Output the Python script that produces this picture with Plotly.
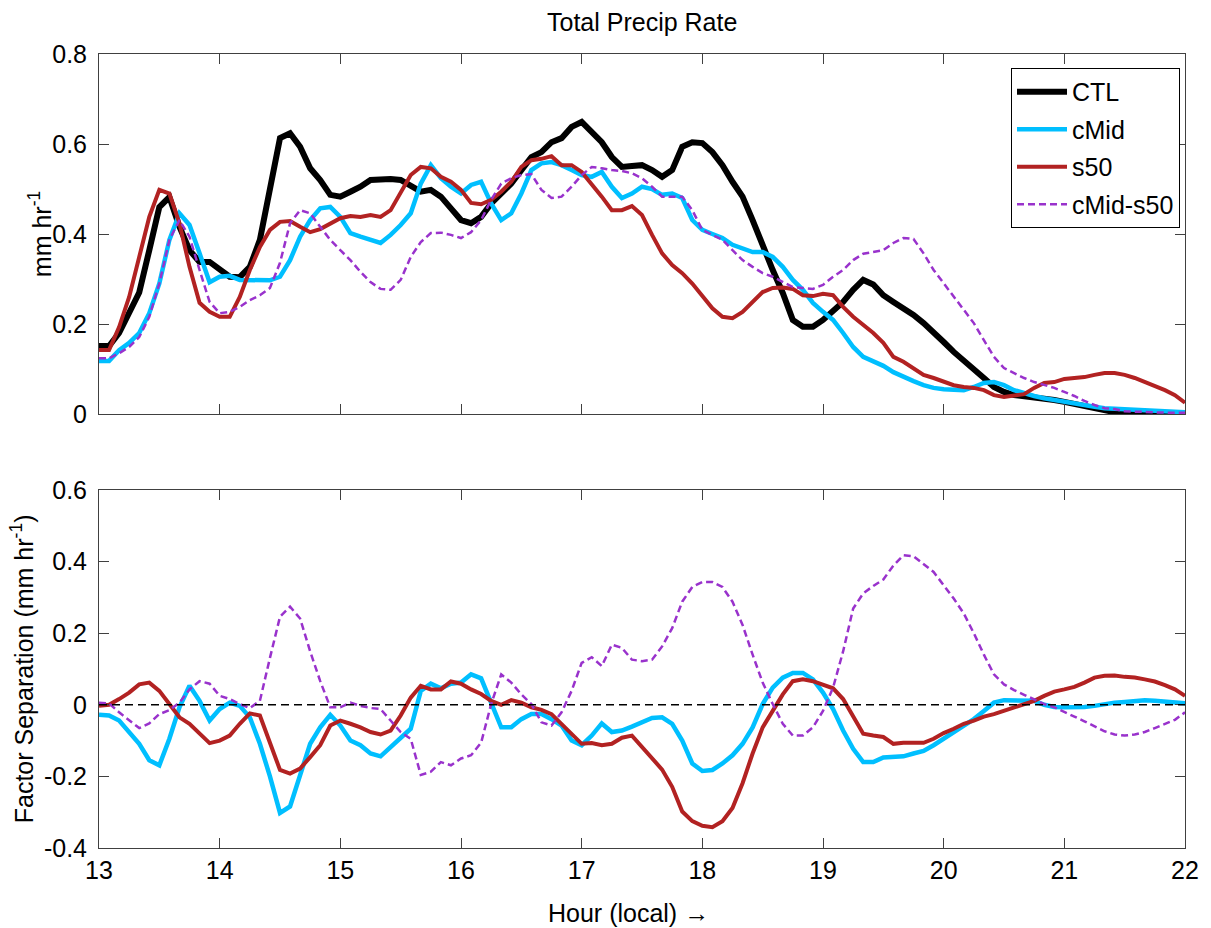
import plotly.graph_objects as go

# Time axis: 5-minute output from 13:00 to 22:00 local
hours = [13 + m / 60 for m in range(0, 545, 5)]

# Total precipitation rate (mm/hr)
ctl = [0.151, 0.151, 0.18, 0.224, 0.27, 0.364, 0.46, 0.482, 0.416, 0.364,
       0.338, 0.338, 0.32, 0.305, 0.304, 0.327, 0.387, 0.498, 0.613, 0.624,
       0.594, 0.546, 0.52, 0.487, 0.483, 0.494, 0.505, 0.52, 0.522, 0.522,
       0.52, 0.505, 0.494, 0.498, 0.483, 0.457, 0.431, 0.424, 0.438, 0.468,
       0.49, 0.512, 0.542, 0.571, 0.582, 0.604, 0.613, 0.638, 0.649, 0.627,
       0.604, 0.571, 0.549, 0.551, 0.553, 0.542, 0.527, 0.542, 0.594, 0.604,
       0.602, 0.582, 0.553, 0.516, 0.483, 0.431, 0.371, 0.32, 0.269, 0.209,
       0.194, 0.194, 0.209, 0.227, 0.249, 0.276, 0.298, 0.288, 0.264, 0.249,
       0.235, 0.22, 0.202, 0.183, 0.16, 0.138, 0.12, 0.098, 0.08, 0.06,
       0.049, 0.042, 0.04, 0.036, 0.036, 0.031, 0.027, 0.022, 0.018, 0.013,
       0.009, 0.004, 0.002, 0.002, 0.002, 0.002, 0.002, 0.002, 0.002]

cmid = [0.118, 0.118, 0.142, 0.158, 0.18, 0.224, 0.29, 0.387, 0.446, 0.42,
        0.357, 0.293, 0.305, 0.307, 0.298, 0.297, 0.297, 0.297, 0.305, 0.342,
        0.394, 0.431, 0.457, 0.46, 0.438, 0.402, 0.394, 0.387, 0.38, 0.398,
        0.42, 0.446, 0.512, 0.553, 0.524, 0.505, 0.49, 0.509, 0.516, 0.468,
        0.431, 0.446, 0.49, 0.542, 0.557, 0.56, 0.553, 0.542, 0.531, 0.527,
        0.538, 0.505, 0.48, 0.49, 0.505, 0.5, 0.487, 0.49, 0.48, 0.431,
        0.409, 0.4, 0.391, 0.376, 0.367, 0.36, 0.36, 0.349, 0.327, 0.298,
        0.276, 0.247, 0.227, 0.209, 0.18, 0.149, 0.127, 0.116, 0.107, 0.093,
        0.082, 0.073, 0.064, 0.058, 0.055, 0.053, 0.053, 0.06, 0.069, 0.071,
        0.064, 0.053, 0.046, 0.04, 0.035, 0.031, 0.027, 0.022, 0.02, 0.016,
        0.013, 0.012, 0.01, 0.01, 0.009, 0.008, 0.007, 0.005, 0.004]

s50 = [0.142, 0.142, 0.193, 0.26, 0.349, 0.438, 0.498, 0.49, 0.424, 0.327,
       0.247, 0.227, 0.216, 0.216, 0.26, 0.32, 0.371, 0.409, 0.427, 0.429,
       0.416, 0.404, 0.411, 0.424, 0.435, 0.44, 0.438, 0.442, 0.438, 0.453,
       0.49, 0.531, 0.549, 0.546, 0.527, 0.516, 0.498, 0.469, 0.466, 0.476,
       0.494, 0.516, 0.549, 0.564, 0.567, 0.573, 0.553, 0.553, 0.538, 0.512,
       0.483, 0.453, 0.453, 0.462, 0.442, 0.398, 0.357, 0.331, 0.313, 0.29,
       0.264, 0.235, 0.216, 0.213, 0.227, 0.249, 0.271, 0.28, 0.281, 0.278,
       0.264, 0.262, 0.267, 0.264, 0.238, 0.216, 0.198, 0.18, 0.158, 0.127,
       0.116, 0.102, 0.087, 0.08, 0.071, 0.064, 0.06, 0.058, 0.053, 0.042,
       0.038, 0.04, 0.044, 0.058, 0.069, 0.071, 0.078, 0.08, 0.082, 0.087,
       0.091, 0.091, 0.087, 0.08, 0.071, 0.064, 0.053, 0.042, 0.025]

cmid_s50 = [0.124, 0.124, 0.135, 0.149, 0.171, 0.216, 0.29, 0.387, 0.431, 0.394,
            0.32, 0.249, 0.224, 0.227, 0.238, 0.253, 0.264, 0.28, 0.336, 0.424,
            0.453, 0.446, 0.416, 0.387, 0.364, 0.342, 0.316, 0.293, 0.278, 0.276,
            0.298, 0.349, 0.382, 0.402, 0.403, 0.398, 0.391, 0.404, 0.431, 0.476,
            0.512, 0.524, 0.531, 0.533, 0.498, 0.48, 0.483, 0.505, 0.531, 0.549,
            0.546, 0.542, 0.54, 0.535, 0.524, 0.505, 0.483, 0.483, 0.483, 0.453,
            0.409, 0.398, 0.387, 0.364, 0.342, 0.327, 0.313, 0.305, 0.293, 0.282,
            0.28, 0.278, 0.287, 0.305, 0.32, 0.342, 0.356, 0.36, 0.364, 0.38,
            0.391, 0.389, 0.357, 0.32, 0.29, 0.26, 0.231, 0.202, 0.164, 0.127,
            0.102, 0.091, 0.08, 0.071, 0.064, 0.058, 0.049, 0.04, 0.029, 0.02,
            0.013, 0.011, 0.006, 0.005, 0.004, 0.003, 0.003, 0.003, 0.003]

# Factor separation (mm/hr)
fs_cmid = [-0.028, -0.03, -0.044, -0.076, -0.109, -0.155, -0.169, -0.095, -0.007, 0.053,
           0.011, -0.044, -0.012, 0.006, -0.003, -0.035, -0.109, -0.2, -0.302, -0.284,
           -0.2, -0.109, -0.063, -0.028, -0.058, -0.1, -0.113, -0.136, -0.144, -0.118,
           -0.095, -0.067, 0.039, 0.059, 0.046, 0.059, 0.062, 0.085, 0.074, 0.002,
           -0.063, -0.063, -0.04, -0.026, -0.026, -0.04, -0.058, -0.1, -0.113, -0.086,
           -0.052, -0.076, -0.072, -0.061, -0.049, -0.037, -0.035, -0.053, -0.1, -0.164,
           -0.185, -0.182, -0.164, -0.141, -0.109, -0.063, 0.002, 0.048, 0.076, 0.089,
           0.089, 0.071, 0.034, -0.012, -0.072, -0.123, -0.16, -0.16, -0.147, -0.144,
           -0.144, -0.136, -0.129, -0.113, -0.095, -0.076, -0.061, -0.04, -0.017, 0.006,
           0.013, 0.013, 0.011, 0.011, 0.0, -0.006, -0.007, -0.007, -0.006, -0.003,
           0.002, 0.006, 0.008, 0.011, 0.013, 0.011, 0.009, 0.006, 0.004]

fs_s50 = [-0.003, 0.0, 0.016, 0.034, 0.057, 0.062, 0.039, 0.002, -0.035, -0.053,
          -0.081, -0.107, -0.1, -0.086, -0.053, -0.024, -0.03, -0.109, -0.182, -0.192,
          -0.178, -0.146, -0.113, -0.058, -0.044, -0.053, -0.063, -0.076, -0.083, -0.072,
          -0.03, 0.02, 0.053, 0.043, 0.043, 0.065, 0.059, 0.043, 0.03, 0.011,
          0.0, 0.013, 0.006, -0.007, -0.014, -0.026, -0.053, -0.081, -0.109, -0.107,
          -0.113, -0.109, -0.092, -0.086, -0.118, -0.15, -0.181, -0.229, -0.298, -0.325,
          -0.338, -0.342, -0.325, -0.288, -0.219, -0.136, -0.063, -0.017, 0.029, 0.066,
          0.071, 0.066, 0.057, 0.046, 0.016, -0.035, -0.081, -0.086, -0.09, -0.109,
          -0.106, -0.106, -0.106, -0.095, -0.079, -0.067, -0.053, -0.044, -0.033, -0.026,
          -0.017, -0.007, 0.002, 0.011, 0.025, 0.037, 0.043, 0.05, 0.062, 0.076,
          0.081, 0.082, 0.078, 0.076, 0.071, 0.065, 0.055, 0.043, 0.025]

fs_cmid_s50 = [0.006, 0.004, -0.021, -0.044, -0.065, -0.052, -0.026, -0.015, 0.006, 0.043,
               0.066, 0.059, 0.025, 0.016, 0.002, -0.009, 0.011, 0.131, 0.246, 0.274,
               0.241, 0.149, 0.066, -0.007, -0.007, 0.006, -0.003, -0.009, -0.012, -0.044,
               -0.076, -0.095, -0.196, -0.187, -0.16, -0.169, -0.15, -0.141, -0.106, 0.002,
               0.085, 0.062, 0.029, 0.002, -0.049, -0.058, -0.021, 0.039, 0.117, 0.133,
               0.108, 0.168, 0.159, 0.126, 0.122, 0.126, 0.163, 0.214, 0.288, 0.329,
               0.343, 0.343, 0.329, 0.288, 0.223, 0.14, 0.062, 0.002, -0.053, -0.086,
               -0.086, -0.063, -0.017, 0.048, 0.149, 0.269, 0.311, 0.332, 0.35, 0.389,
               0.418, 0.415, 0.394, 0.371, 0.334, 0.297, 0.255, 0.2, 0.14, 0.085,
               0.057, 0.041, 0.028, 0.016, 0.002, -0.007, -0.019, -0.033, -0.046, -0.061,
               -0.074, -0.083, -0.086, -0.083, -0.076, -0.065, -0.053, -0.042, -0.021]

series_names = ["CTL", "cMid", "s50", "cMid-s50"]
x_ticks = list(range(13, 23))
top_y_ticks = [0, 0.2, 0.4, 0.6, 0.8]
top_y_labels = ["0", "0.2", "0.4", "0.6", "0.8"]
bot_y_ticks = [-0.4, -0.2, 0, 0.2, 0.4, 0.6]
bot_y_labels = ["-0.4", "-0.2", "0", "0.2", "0.4", "0.6"]

FONT = "Liberation Sans, Arial, Helvetica, sans-serif"
styles = [
    dict(color="#000000", width=6),
    dict(color="#00BFFF", width=4.5),
    dict(color="#B22222", width=4),
    dict(color="#9932CC", width=2.5, dash="7px,4px"),
]

fig = go.Figure()

top_series = [ctl, cmid, s50, cmid_s50]
for name, vals, st in zip(series_names, top_series, styles):
    fig.add_trace(go.Scatter(x=hours, y=vals, mode="lines", name=name,
                             legendgroup=name, line=st,
                             xaxis="x", yaxis="y"))

bot_series = [fs_cmid, fs_s50, fs_cmid_s50]
for name, vals, st in zip(series_names[1:], bot_series, styles[1:]):
    fig.add_trace(go.Scatter(x=hours, y=vals, mode="lines", name=name,
                             showlegend=False, line=st,
                             xaxis="x2", yaxis="y2"))

axis_common = dict(
    showline=True, linecolor="#404040", linewidth=1, mirror="ticks",
    ticks="inside", ticklen=10, tickwidth=1, tickcolor="#404040",
    showgrid=False, zeroline=False,
    tickfont=dict(family=FONT, size=25, color="#000000"),
)

fig.update_layout(
    width=1211, height=928,
    margin=dict(l=99, r=23, t=54, b=80),
    paper_bgcolor="white", plot_bgcolor="white",
    font=dict(family=FONT, color="#000000"),
    showlegend=True,
    legend=dict(
        x=0.9954, y=0.9824, xanchor="right", yanchor="top",
        bgcolor="white", bordercolor="#000000", borderwidth=1,
        font=dict(family=FONT, size=25, color="#000000"),
        itemwidth=50, tracegroupgap=2,
    ),
    xaxis=dict(domain=[0, 1], range=[13, 22], tickvals=x_ticks,
               showticklabels=False, anchor="y", **axis_common),
    yaxis=dict(domain=[0.5466, 1], range=[0, 0.8], tickvals=top_y_ticks,
               ticktext=top_y_labels, ticklabelstandoff=6, anchor="x",
               **axis_common),
    xaxis2=dict(domain=[0, 1], range=[13, 22], tickvals=x_ticks,
                ticktext=[str(t) for t in x_ticks], anchor="y2",
                **axis_common),
    yaxis2=dict(domain=[0, 0.4509], range=[-0.4, 0.6], tickvals=bot_y_ticks,
                ticktext=bot_y_labels, ticklabelstandoff=6, anchor="x2",
                **axis_common),
    shapes=[dict(type="line", xref="x2", yref="y2", x0=13, x1=22, y0=0, y1=0,
                 line=dict(color="#000000", width=1.5, dash="8px,5px"),
                 layer="above")],
    annotations=[
        dict(text="Total Precip Rate", xref="paper", yref="paper",
             x=0.5, y=1.0403, showarrow=False, xanchor="center", yanchor="middle",
             font=dict(family=FONT, size=25, color="#000000")),
        dict(text="mm hr<sup>-1</sup>", xref="paper", yref="paper",
             x=-0.0542, y=0.7733, showarrow=False, textangle=-90,
             xanchor="center", yanchor="middle",
             font=dict(family=FONT, size=25, color="#000000")),
        dict(text="Factor Separation (mm hr<sup>-1</sup>)", xref="paper", yref="paper",
             x=-0.0707, y=0.2254, showarrow=False, textangle=-90,
             xanchor="center", yanchor="middle",
             font=dict(family=FONT, size=25, color="#000000")),
        dict(text="Hour (local) \u2192", xref="paper", yref="paper",
             x=0.4876, y=-0.0819, showarrow=False,
             xanchor="center", yanchor="middle",
             font=dict(family=FONT, size=25, color="#000000")),
    ],
)

fig.write_html("out.html")
